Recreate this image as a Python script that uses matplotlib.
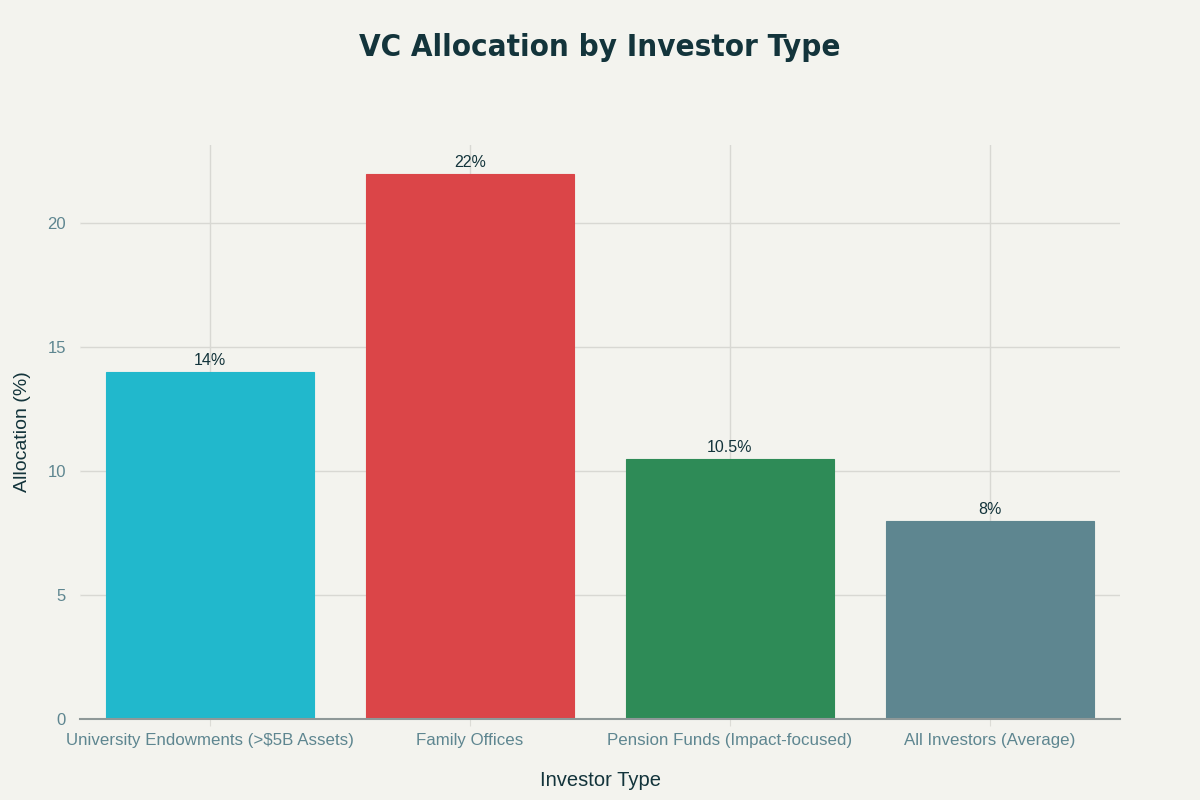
import matplotlib
matplotlib.use("Agg")
import matplotlib.pyplot as plt

categories = ["University Endowments (>$5B Assets)", "Family Offices",
              "Pension Funds (Impact-focused)", "All Investors (Average)"]
values = [14, 22, 10.5, 8]
labels = ["14%", "22%", "10.5%", "8%"]
colors = ["#21B8CC", "#DB4548", "#2E8B57", "#5E8690"]
yticks = [0, 5, 10, 15, 20]

bg = "#F3F3EE"
dark = "#13343B"
tickc = "#5E8690"

plt.rcParams["font.family"] = ["Liberation Sans", "DejaVu Sans"]

fig = plt.figure(figsize=(12, 8), dpi=100, facecolor=bg)
ax = fig.add_axes([80/1200, 1-719/800, 1040/1200, (719-145)/800], facecolor=bg)

x = list(range(len(categories)))
ax.bar(x, values, width=0.8, color=colors, edgecolor=colors, linewidth=0.8, zorder=3)
for xi, v, lab in zip(x, values, labels):
    ax.text(xi, v + 0.15, lab, ha="center", va="bottom", fontsize=11.5, color=dark, zorder=4)

ax.set_xlim(-0.5, 3.5)
ax.set_ylim(0, 23.15)
ax.set_xticks(x)
ax.set_xticklabels(categories, fontsize=12.2, color=tickc)
ax.set_yticks(yticks)
ax.set_yticklabels([str(t) for t in yticks], fontsize=12, color=tickc)
ax.grid(True, color="#D8D8D3", linewidth=1, zorder=0)
ax.tick_params(axis="x", length=5, color="#DCDCD6", pad=5)
ax.tick_params(axis="y", length=6, color=bg, pad=4)
for s in ["top", "right", "left"]:
    ax.spines[s].set_visible(False)
ax.spines["bottom"].set_color("#8E9898")
ax.spines["bottom"].set_linewidth(1.5)
ax.spines["bottom"].set_zorder(5)

ax.set_xlabel("Investor Type", fontsize=14.5, color=dark, labelpad=17)
ax.set_ylabel("Allocation (%)", fontsize=14, color=dark, labelpad=12)

fig.text(0.5, 1-47/800, "VC Allocation by Investor Type", ha="center", va="center",
         fontsize=22.4, fontweight="bold", color=dark, family=["DejaVu Sans"],
         fontstretch="condensed")

fig.savefig("out.png", dpi=100, facecolor=bg)
